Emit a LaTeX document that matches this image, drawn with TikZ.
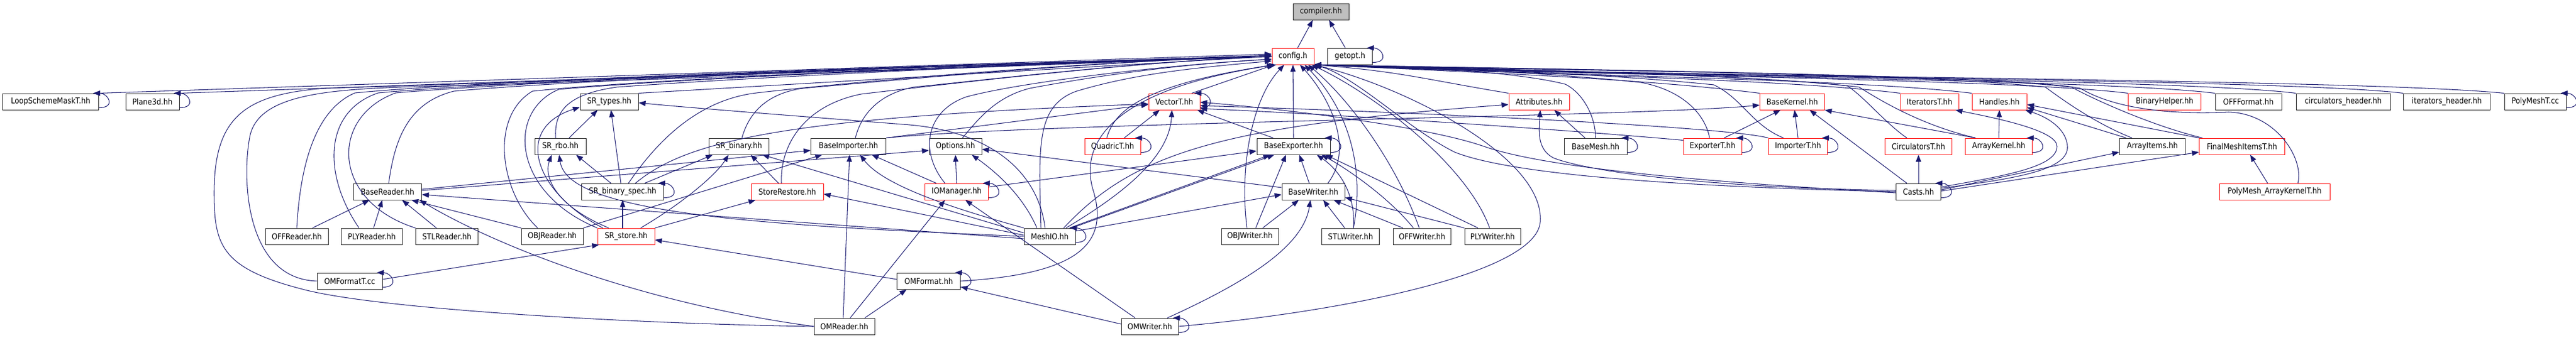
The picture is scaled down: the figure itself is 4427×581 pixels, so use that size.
\documentclass[tikz,border=0pt]{standalone}
\usepackage{fontspec}
\newfontfamily\dxfont[FakeStretch=0.88]{DejaVu Sans}
\usetikzlibrary{arrows.meta}
\definecolor{edgeblue}{HTML}{191970}
\definecolor{nodered}{HTML}{FF0000}
\definecolor{nodegray}{HTML}{BFBFBF}
\definecolor{nodeborder}{HTML}{202020}
\newcommand\selfloop[1]{\draw[arr] ([yshift=4pt]#1.south east) .. controls +(30,0) and +(26,0) .. ([xshift=-10pt]#1.north east);}
\begin{document}
\begin{tikzpicture}[x=1pt,y=-1pt,
  box/.style={draw=nodeborder,line width=1pt,fill=white,minimum height=28pt,inner sep=0pt,font=\dxfont\fontsize{14pt}{16pt}\selectfont},
  rbox/.style={box,draw=nodered},
  arr/.style={draw=edgeblue,line width=1.05pt,-{Triangle[length=12pt,width=9pt]}}]
\useasboundingbox (0,0) rectangle (4427,581);
% ---------- nodes ----------
\node[box,fill=nodegray,minimum width=96pt] (compiler) at (2270,20) {compiler.hh};
\node[rbox,minimum width=72pt] (config) at (2222,97) {config.h};
\node[box,minimum width=77pt] (getopt) at (2320,97) {getopt.h};
% row 3
\node[box,minimum width=165pt] (loopsm) at (87,175) {LoopSchemeMaskT.hh};
\node[box,minimum width=92pt] (plane) at (262,175) {Plane3d.hh};
\node[box,minimum width=100pt] (srtypes) at (1047,175) {SR\_types.hh};
\node[rbox,minimum width=88pt] (vector) at (2018,175) {VectorT.hh};
\node[rbox,minimum width=104pt] (attr) at (2645,175) {Attributes.hh};
\node[rbox,minimum width=111pt] (basekernel) at (3080,175) {BaseKernel.hh};
\node[rbox,minimum width=100pt] (iters) at (3316,175) {IteratorsT.hh};
\node[rbox,minimum width=94pt] (handles) at (3436,175) {Handles.hh};
\node[rbox,minimum width=125pt] (binhelp) at (3720,175) {BinaryHelper.hh};
\node[box,minimum width=114pt] (offformat) at (3864,175) {OFFFormat.hh};
\node[box,minimum width=162pt] (circh) at (4027,175) {circulators\_header.hh};
\node[box,minimum width=149pt] (iterh) at (4205,175) {iterators\_header.hh};
\node[box,minimum width=106pt] (polymeshcc) at (4357,175) {PolyMeshT.cc};
% row 4
\node[box,minimum width=88pt] (srrbo) at (963,252) {SR\_rbo.hh};
\node[box,minimum width=103pt] (srbin) at (1270,252) {SR\_binary.hh};
\node[box,minimum width=129pt] (baseimp) at (1458,252) {BaseImporter.hh};
\node[box,minimum width=90pt] (options) at (1642,252) {Options.hh};
\node[rbox,minimum width=96pt] (quadric) at (1912,252) {QuadricT.hh};
\node[box,minimum width=126pt] (baseexp) at (2223,252) {BaseExporter.hh};
\node[box,minimum width=108pt] (basemesh) at (2742,252) {BaseMesh.hh};
\node[rbox,minimum width=100pt] (exportert) at (2943,252) {ExporterT.hh};
\node[rbox,minimum width=101pt] (importert) at (3090,252) {ImporterT.hh};
\node[rbox,minimum width=115pt] (circt) at (3297,252) {CirculatorsT.hh};
\node[rbox,minimum width=115pt] (arraykernel) at (3435,252) {ArrayKernel.hh};
\node[box,minimum width=113pt] (arrayitems) at (3699,252) {ArrayItems.hh};
\node[rbox,minimum width=147pt] (finalmesh) at (3853,252) {FinalMeshItemsT.hh};
% row 5
\node[box,minimum width=117pt] (basereader) at (666,330) {BaseReader.hh};
\node[box,minimum width=141pt] (srbs) at (1070,330) {SR\_binary\_spec.hh};
\node[rbox,minimum width=124pt] (storerest) at (1353,330) {StoreRestore.hh};
\node[rbox,minimum width=109pt] (iomgr) at (1644,330) {IOManager.hh};
\node[box,minimum width=108pt] (basewriter) at (2257,330) {BaseWriter.hh};
\node[box,minimum width=77pt] (casts) at (3297,330) {Casts.hh};
\node[rbox,minimum width=190pt] (pmak) at (3909,330) {PolyMesh\_ArrayKernelT.hh};
% row 6
\node[box,minimum width=108pt] (offreader) at (510,407) {OFFReader.hh};
\node[box,minimum width=105pt] (plyreader) at (639,407) {PLYReader.hh};
\node[box,minimum width=107pt] (stlreader) at (768,407) {STLReader.hh};
\node[box,minimum width=106pt] (objreader) at (949,407) {OBJReader.hh};
\node[rbox,minimum width=98pt] (srstore) at (1076,407) {SR\_store.hh};
\node[box,minimum width=88pt] (meshio) at (1804,407) {MeshIO.hh};
\node[box,minimum width=98pt] (objwriter) at (2148,407) {OBJWriter.hh};
\node[box,minimum width=99pt] (stlwriter) at (2321,407) {STLWriter.hh};
\node[box,minimum width=99pt] (offwriter) at (2444,407) {OFFWriter.hh};
\node[box,minimum width=96pt] (plywriter) at (2565,407) {PLYWriter.hh};
% row 7/8
\node[box,minimum width=112pt] (omft) at (601,484) {OMFormatT.cc};
\node[box,minimum width=109pt] (omformat) at (1596,484) {OMFormat.hh};
\node[box,minimum width=104pt] (omreader) at (1451,562) {OMReader.hh};
\node[box,minimum width=98pt] (omwriter) at (1976,562) {OMWriter.hh};
% ---------- edges ----------
\draw[arr] ([xshift=8pt]config.north) -- ([xshift=-14pt]compiler.south);
\draw[arr] ([xshift=-8pt]getopt.north) -- ([xshift=14pt]compiler.south);
\selfloop{getopt}
% left row 3 to config
\draw[arr] (loopsm.north east) -- ([yshift=4pt]config.west);
\draw[arr] (plane.north east) -- ([yshift=2pt]config.west);
\draw[arr] (srtypes.north east) -- (config.west);
\draw[arr] ([xshift=30pt]vector.north) -- ([xshift=4pt]config.south west);
\selfloop{loopsm}
\selfloop{plane}
% right row 3 to config
\draw[arr] (attr.north west) .. controls +(-150,-25) and +(150,12) .. (config.south east);
\draw[arr] (basekernel.north west) .. controls +(-200,-25) and +(300,14) .. (config.south east);
\draw[arr] (iters.north west) .. controls +(-200,-25) and +(350,16) .. (config.south east);
\draw[arr] (handles.north west) .. controls +(-200,-25) and +(400,18) .. (config.south east);
\draw[arr] (binhelp.north west) .. controls +(-200,-25) and +(450,18) .. (config.south east);
\draw[arr] (offformat.north west) .. controls +(-200,-25) and +(500,20) .. (config.south east);
\draw[arr] (circh.north west) .. controls +(-200,-25) and +(550,20) .. (config.south east);
\draw[arr] (iterh.north west) .. controls +(-200,-25) and +(600,22) .. (config.south east);
\draw[arr] (polymeshcc.north west) .. controls +(-250,-25) and +(650,22) .. (config.south east);
\selfloop{polymeshcc}
% right row 4 to config (through the gaps of row 3)
\draw[arr] (basemesh.north) .. controls (2742,200) and (2720,160) .. (2690,145) .. controls (2600,122) and (2400,113) .. (config.south east);
\draw[arr] ([xshift=-5pt]exportert.north) .. controls (2930,195) and (2890,155) .. (2820,142) .. controls (2650,124) and (2420,114) .. (config.south east);
\draw[arr] ([xshift=-25pt]importert.north) .. controls (3010,215) and (2995,170) .. (2945,146) .. controls (2750,126) and (2450,115) .. (config.south east);
\draw[arr] ([xshift=-20pt]circt.north) .. controls (3240,212) and (3205,168) .. (3175,148) .. controls (3000,127) and (2500,117) .. (config.south east);
\draw[arr] ([xshift=-40pt]arraykernel.north) .. controls (3300,215) and (3230,172) .. (3195,150) .. controls (3020,128) and (2520,118) .. (config.south east);
\draw[arr] ([xshift=-35pt]arrayitems.north) .. controls (3600,212) and (3545,172) .. (3515,150) .. controls (3300,126) and (2600,118) .. (config.south east);
\draw[arr] ([xshift=6pt]finalmesh.north west) .. controls (3700,217) and (3600,172) .. (3560,150) .. controls (3350,126) and (2620,119) .. (config.south east);
\draw[arr] (casts.west) .. controls (2900,322) and (2600,302) .. (2500,262) .. controls (2420,222) and (2330,132) .. (config.south east);
\draw[arr] ([xshift=40pt]pmak.north) .. controls (3960,272) and (3910,195) .. (3830,193) .. controls (3720,198) and (3630,185) .. (3575,152) .. controls (3450,128) and (2700,122) .. (config.south east);
% writers to config
\draw[arr] (baseexp.north) -- (config.south);
\draw[arr] ([xshift=-5pt]objwriter.north) .. controls (2130,292) and (2150,172) .. ([xshift=-15pt]config.south);
\draw[arr] ([xshift=25pt]basewriter.north) .. controls (2330,252) and (2280,162) .. ([xshift=12pt]config.south);
\draw[arr] ([xshift=5pt]stlwriter.north) .. controls (2345,292) and (2320,192) .. ([xshift=20pt]config.south);
\draw[arr] ([xshift=-5pt]offwriter.north) .. controls (2400,282) and (2320,172) .. ([xshift=26pt]config.south);
\draw[arr] ([xshift=-5pt]plywriter.north) .. controls (2520,282) and (2360,162) .. ([xshift=32pt]config.south);
\draw[arr] (omwriter.east) .. controls (2300,538) and (2640,472) .. (2647,382) .. controls (2655,272) and (2420,152) .. (config.south east);
\draw[arr] (omformat.east) .. controls (1850,472) and (1905,422) .. (1880,332) .. controls (1850,242) and (1920,152) .. ([xshift=8pt]config.south west);
% left lower to config
\draw[arr] (omft.west) .. controls (420,480) and (415,302) .. (430,232) .. controls (450,152) and (600,152) .. (800,147) .. controls (1300,132) and (1900,107) .. (config.west);
\draw[arr] (omreader.west) .. controls (1100,558) and (650,533) .. (520,498) .. controls (380,462) and (368,422) .. (368,332) .. controls (368,202) and (420,162) .. (560,152) .. controls (1200,132) and (1900,107) .. (config.west);
\draw[arr] (offreader.north) .. controls (515,302) and (535,192) .. (610,160) .. controls (900,132) and (1900,104) .. (config.west);
\draw[arr] ([xshift=-22pt]plyreader.north) .. controls (555,302) and (555,192) .. (650,160) .. controls (950,132) and (1900,104) .. (config.west);
\draw[arr] (stlreader.north west) .. controls (570,347) and (565,202) .. (680,160) .. controls (1000,132) and (1900,104) .. (config.west);
\draw[arr] ([xshift=2pt]basereader.north) .. controls (678,242) and (700,177) .. (780,157) .. controls (1050,132) and (1900,104) .. (config.west);
\draw[arr] ([xshift=-25pt]objreader.north) .. controls (860,332) and (840,202) .. (915,157) .. controls (1150,132) and (1900,104) .. (config.west);
\draw[arr] (srstore.north west) .. controls (880,332) and (870,192) .. (960,154) .. controls (1200,132) and (1900,104) .. (config.west);
\draw[arr] ([xshift=-8pt]srrbo.north) .. controls (952,192) and (975,162) .. (1060,150) .. controls (1300,132) and (1900,104) .. (config.west);
\draw[arr] ([xshift=10pt]srbs.north) .. controls (1130,242) and (1200,172) .. (1300,160) .. controls (1500,137) and (1900,104) .. (config.west);
\draw[arr] ([xshift=5pt]srbin.north) .. controls (1285,202) and (1310,162) .. (1380,152) .. controls (1550,137) and (1900,104) .. (config.west);
\draw[arr] ([xshift=-10pt]storerest.north) .. controls (1340,252) and (1380,182) .. (1480,162) .. controls (1650,142) and (1950,107) .. (config.west);
\draw[arr] ([xshift=12pt]baseimp.north) .. controls (1480,197) and (1510,162) .. (1570,150) .. controls (1700,137) and (1950,107) .. (config.west);
\draw[arr] ([xshift=-20pt]iomgr.north) .. controls (1580,262) and (1590,192) .. (1660,167) .. controls (1750,142) and (2000,112) .. ([yshift=-5pt]config.west);
\draw[arr] ([xshift=12pt]options.north) .. controls (1680,207) and (1710,167) .. (1770,152) .. controls (1850,137) and (2000,112) .. ([yshift=-5pt]config.west);
\draw[arr] ([xshift=-15pt]meshio.north) .. controls (1785,252) and (1780,182) .. (1850,157) .. controls (1950,127) and (2050,117) .. ([yshift=-8pt]config.west);
\draw[arr] ([xshift=-10pt]quadric.north) .. controls (1915,192) and (1960,147) .. ([xshift=4pt]config.south west);
% SR group
\draw[arr] ([xshift=15pt]srrbo.north) -- ([xshift=-20pt]srtypes.south);
\draw[arr] ([xshift=-3pt]srbs.north) -- ([xshift=3pt]srtypes.south);
\draw[arr] ([xshift=-20pt]srbs.north) -- ([xshift=27pt]srrbo.south);
\draw[arr] ([xshift=38pt]srbs.north) -- ([xshift=-45pt]srbin.south);
\draw[arr] ([xshift=22pt]srbs.north) .. controls (1180,242) and (1350,202) .. ([yshift=-4pt]vector.west);
\selfloop{srbs}
\draw[arr] ([xshift=-6pt]srstore.north) -- (srbs.south);
\draw[arr] ([xshift=-40pt]srstore.north) .. controls (920,332) and (880,222) .. ([yshift=5pt]srtypes.south west);
\draw[arr] ([xshift=-30pt]srstore.north) .. controls (950,352) and (935,302) .. ([xshift=-15pt]srrbo.south);
\draw[arr] ([xshift=25pt]srstore.north) .. controls (1170,352) and (1230,302) .. ([xshift=-18pt]srbin.south);
\draw[arr] (srstore.north east) -- ([xshift=8pt]storerest.south west);
\draw[arr] ([xshift=-15pt]storerest.north) -- ([xshift=20pt]srbin.south);
% MeshIO
\draw[arr] (meshio.west) .. controls (1300,388) and (975,367) .. ([xshift=-2pt]srrbo.south);
\draw[arr] ([yshift=6pt]meshio.west) -- ([xshift=40pt]srbin.south);
\draw[arr] ([yshift=2pt]meshio.west) -- ([yshift=-4pt]storerest.east);
\draw[arr] ([xshift=-8pt]meshio.north) .. controls (1785,302) and (1710,224) .. (1550,214) .. controls (1400,202) and (1200,187) .. ([yshift=-2pt]srtypes.east);
\draw[arr] ([yshift=-4pt]meshio.west) -- ([yshift=-5pt]basereader.east);
\draw[arr] (meshio.north west) .. controls (1650,362) and (1520,322) .. ([xshift=20pt]baseimp.south);
\draw[arr] ([xshift=-22pt]meshio.north) .. controls (1760,342) and (1720,302) .. ([xshift=28pt]options.south);
\draw[arr] ([xshift=28pt]meshio.north) .. controls (1950,322) and (2010,262) .. ([xshift=-4pt]vector.south);
\draw[arr] ([xshift=34pt]meshio.north) -- ([xshift=-40pt]baseexp.south);
\draw[arr] ([xshift=38pt]meshio.north) -- ([xshift=-33pt]baseexp.south);
\draw[arr] ([yshift=9pt]meshio.east) -- ([yshift=-5pt]basewriter.west);
\draw[arr] ([xshift=24pt]meshio.north) .. controls (1950,262) and (2100,217) .. ([yshift=-5pt]attr.west);
\selfloop{meshio}
% readers
\draw[arr] ([xshift=27pt]offreader.north) -- ([xshift=-31pt]basereader.south);
\draw[arr] ([xshift=3pt]plyreader.north) -- ([xshift=-9pt]basereader.south);
\draw[arr] ([xshift=-18pt]stlreader.north) -- ([xshift=25pt]basereader.south);
\draw[arr] (objreader.north west) -- ([xshift=-18pt]basereader.south east);
\draw[arr] (objreader.north east) -- ([xshift=-45pt]baseimp.south);
\draw[arr] ([yshift=4pt]basereader.east) -- ([yshift=-7pt]baseimp.west);
\draw[arr] ([yshift=2pt]basereader.east) -- ([yshift=-7pt]options.west);
% OMReader
\draw[arr] (omreader.west) .. controls (1100,522) and (850,422) .. ([xshift=-4pt]basereader.south east);
\draw[arr] ([xshift=-2pt]omreader.north) -- ([xshift=2pt]baseimp.south);
\draw[arr] ([xshift=10pt]omreader.north) -- ([xshift=-20pt]iomgr.south);
\draw[arr] ([xshift=35pt]omreader.north) -- ([xshift=-38pt]omformat.south);
% OMFormatT / OMFormat / OMWriter
\draw[arr] ([yshift=3pt]omft.east) -- ([xshift=3pt]srstore.south west);
\selfloop{omft}
\draw[arr] ([yshift=3pt]omformat.west) -- ([yshift=-6pt]srstore.east);
\selfloop{omformat}
\draw[arr] ([yshift=4pt]omwriter.west) -- ([yshift=-10pt]omformat.east);
\draw[arr] ([xshift=-25pt]omwriter.north) -- ([xshift=15pt]iomgr.south);
\draw[arr] ([xshift=30pt]omwriter.north) .. controls (2150,482) and (2240,422) .. ([xshift=-5pt]basewriter.south);
\selfloop{omwriter}
% IOManager
\draw[arr] ([xshift=-35pt]iomgr.north) -- ([xshift=40pt]baseimp.south);
\draw[arr] (iomgr.north) -- (options.south);
\draw[arr] ([yshift=8pt]iomgr.east) -- ([yshift=-8pt]baseexp.west);
\selfloop{iomgr}
% importer / exporter / writers
\draw[arr] (baseimp.north east) -- ([yshift=-5pt]vector.west);
\draw[arr] (baseimp.north east) .. controls (1800,210) and (2800,202) .. ([yshift=-6pt]basekernel.west);
\draw[arr] ([xshift=-35pt]baseexp.north) -- ([xshift=-5pt]vector.south east);
\selfloop{baseexp}
\draw[arr] ([xshift=20pt]quadric.north) -- ([xshift=-25pt]vector.south);
\selfloop{quadric}
\selfloop{vector}
\draw[arr] ([xshift=-7pt]basewriter.north) -- ([xshift=10pt]baseexp.south);
\draw[arr] ([yshift=7pt]basewriter.west) -- ([yshift=-5pt]options.east);
\draw[arr] ([xshift=22pt]objwriter.north) -- ([xshift=-25pt]basewriter.south);
\draw[arr] ([xshift=10pt]objwriter.north) -- ([xshift=-13pt]baseexp.south);
\draw[arr] ([xshift=-10pt]stlwriter.north) -- ([xshift=17pt]basewriter.south);
\draw[arr] ([xshift=5pt]stlwriter.north) .. controls (2330,332) and (2300,292) .. ([xshift=40pt]baseexp.south);
\draw[arr] ([xshift=-33pt]offwriter.north) -- ([xshift=35pt]basewriter.south);
\draw[arr] ([xshift=-15pt]offwriter.north) .. controls (2380,332) and (2300,282) .. ([xshift=48pt]baseexp.south);
\draw[arr] (plywriter.north west) -- ([yshift=-10pt]basewriter.east);
\draw[arr] ([xshift=-25pt]plywriter.north) -- ([xshift=55pt]baseexp.south);
% right cluster
\draw[arr] ([yshift=-4pt]exportert.north west) .. controls (2700,224) and (2300,197) .. ([yshift=-12pt]vector.east);
\draw[arr] ([xshift=20pt]exportert.north) -- ([xshift=-20pt]basekernel.south);
\selfloop{exportert}
\draw[arr] (importert.north) -- ([xshift=4pt]basekernel.south);
\draw[arr] (importert.north west) .. controls (2960,217) and (2400,192) .. ([yshift=-7pt]vector.east);
\selfloop{importert}
\draw[arr] ([xshift=-18pt]basemesh.north) -- ([xshift=26pt]attr.south);
\selfloop{basemesh}
\draw[arr] ([yshift=2pt]casts.west) .. controls (2900,322) and (2720,292) .. (2670,272) .. controls (2640,257) and (2645,222) .. ([xshift=2pt]attr.south);
\draw[arr] ([yshift=-2pt]casts.west) .. controls (2900,312) and (2650,287) .. (2550,252) .. controls (2450,217) and (2200,187) .. ([yshift=-1pt]vector.east);
\draw[arr] (casts.north) -- (circt.south);
\draw[arr] ([xshift=-20pt]casts.north) -- ([xshift=30pt]basekernel.south);
\draw[arr] ([yshift=8pt]casts.east) .. controls (3450,302) and (3535,287) .. (3535,252) .. controls (3535,227) and (3450,207) .. ([xshift=-6pt]iters.south east);
\draw[arr] ([yshift=6pt]casts.east) .. controls (3470,307) and (3555,292) .. (3553,252) .. controls (3551,222) and (3520,202) .. ([xshift=-3pt]handles.south east);
\draw[arr] ([yshift=3pt]casts.east) -- ([yshift=-10pt]arrayitems.west);
\draw[arr] ([yshift=1pt]casts.east) -- ([yshift=-10pt]finalmesh.west);
\selfloop{casts}
\draw[arr] (arraykernel.north) -- (handles.south);
\draw[arr] ([xshift=-40pt]arraykernel.north) -- (basekernel.south east);
\selfloop{arraykernel}
\draw[arr] ([xshift=-45pt]arrayitems.north) -- ([yshift=-10pt]handles.east);
\draw[arr] (finalmesh.north west) -- ([yshift=-5pt]handles.east);
\draw[arr] ([xshift=-12pt]pmak.north) -- ([xshift=14pt]finalmesh.south);
\end{tikzpicture}
\end{document}
